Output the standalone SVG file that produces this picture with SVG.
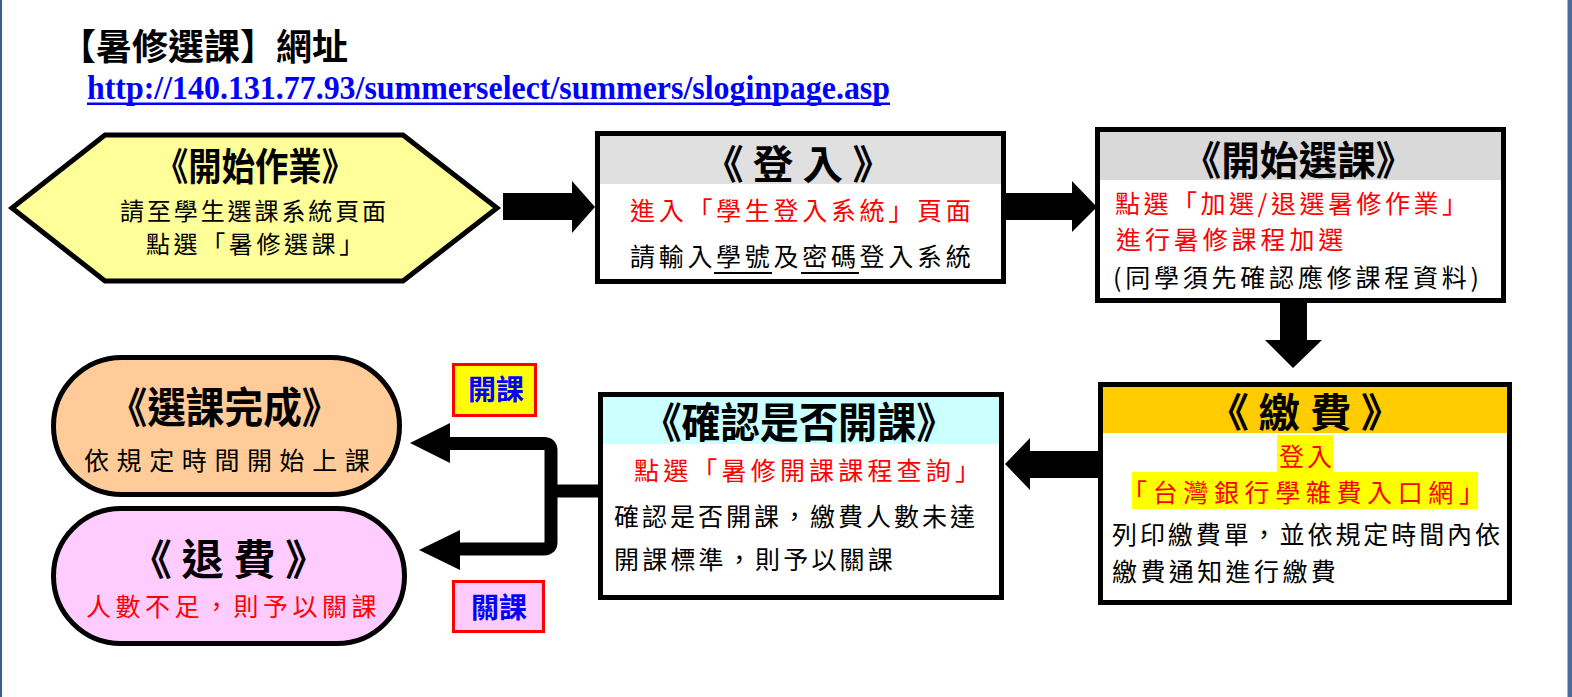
<svg xmlns="http://www.w3.org/2000/svg" width="1572" height="697" viewBox="0 0 1572 697">
<style>
.t{font-family:"Noto Sans CJK TC","Noto Sans CJK SC",sans-serif;font-weight:700;fill:#000;text-anchor:middle}
.b{font-family:"Noto Sans CJK TC","Noto Sans CJK SC",sans-serif;font-weight:400;fill:#000;font-size:24px}
.r{fill:#ff0000}
.frame{fill:none;stroke:#000;stroke-width:5}
.lab{font-family:"Noto Sans CJK TC","Noto Sans CJK SC",sans-serif;font-weight:700;fill:#0000ff;font-size:28px;text-anchor:middle}
.arr{fill:#000;stroke:none}
</style>
<rect x="0" y="0" width="1572" height="697" fill="#ffffff"/>
<rect x="0" y="0" width="2" height="697" fill="#3b5d8c"/>
<rect x="1567.5" y="0" width="4.5" height="697" fill="#4a6b9b"/>

<g id="header">
<text x="60" y="60" style="font-family:'Noto Sans CJK TC','Noto Sans CJK SC',sans-serif;font-weight:700;font-size:36px">【暑修選課】網址</text>
<text x="87" y="99" textLength="803" lengthAdjust="spacingAndGlyphs" style="font-family:'Liberation Serif',serif;font-weight:700;font-size:33px;fill:#0000ff">http://140.131.77.93/summerselect/summers/sloginpage.asp</text>
<rect x="87" y="102.5" width="803" height="2.5" fill="#0000ff"/>
</g>

<g id="connectors">
<polygon class="arr" points="503,193 572,193 572,181 595,207 572,233 572,220 503,220"/>
<polygon class="arr" points="1006,193 1072,193 1072,181 1097,207 1072,232 1072,220 1006,220"/>
<polygon class="arr" points="1280,302 1307,302 1307,340 1322,340 1293,368 1265,340 1280,340"/>
<polygon class="arr" points="1098,451 1030,451 1030,438 1005,464 1030,490 1030,478 1098,478"/>
<path d="M598 491 H551 M449 443.5 H544 Q551 443.5 551 450.5 V542 Q551 549 544 549 H459" fill="none" stroke="#000" stroke-width="13"/>
<polygon class="arr" points="450,423 450,463 410,443"/>
<polygon class="arr" points="460,530 460,570 419,550"/>
</g>

<g id="node-start">
<polygon points="12,208 105,135 403,135 497,208 403,281 105,281" fill="#ffff99" stroke="#000" stroke-width="5" stroke-linejoin="miter"/>
<text class="t" x="255" y="180" font-size="38" textLength="200" lengthAdjust="spacingAndGlyphs">《開始作業》</text>
<text class="b" x="120" y="220" style="font-size:24px;letter-spacing:2.9px">請至學生選課系統頁面</text>
<text class="b" x="146" y="253" style="font-size:24px;letter-spacing:3.6px">點選「暑修選課」</text>
</g>

<g id="node-login">
<rect x="600" y="136" width="401" height="48" fill="#e0e0e0"/>
<rect x="597.5" y="133.5" width="406" height="148" class="frame"/>
<text class="t" x="798" y="179" font-size="40" textLength="190" lengthAdjust="spacingAndGlyphs">《 登 入 》</text>
<text class="b r" x="630" y="220" style="font-size:25px;letter-spacing:3.7px">進入「學生登入系統」頁面</text>
<text class="b" x="630" y="266" style="font-size:25px;letter-spacing:3.7px">請輸入學號及密碼登入系統</text>
<line x1="714" y1="273" x2="772" y2="273" stroke="#000" stroke-width="2"/>
<line x1="801" y1="273" x2="859" y2="273" stroke="#000" stroke-width="2"/>
</g>

<g id="node-select">
<rect x="1100" y="132" width="401" height="48" fill="#d9d9d9"/>
<rect x="1097.5" y="129.5" width="406" height="171" class="frame"/>
<text class="t" x="1298.5" y="175" font-size="40" textLength="232" lengthAdjust="spacingAndGlyphs">《開始選課》</text>
<text class="b r" x="1115" y="213" textLength="352" lengthAdjust="spacing" style="font-size:25px">點選「加選/退選暑修作業」</text>
<text class="b r" x="1116" y="249" style="font-size:25px;letter-spacing:3.9px">進行暑修課程加選</text>
<text class="b" x="1113" y="287" textLength="366" lengthAdjust="spacing" style="font-size:25px">(同學須先確認應修課程資料)</text>
</g>

<g id="node-pay">
<rect x="1103" y="387" width="404" height="46" fill="#ffcc00"/>
<rect x="1100.5" y="384.5" width="409" height="218" class="frame"/>
<text class="t" x="1305" y="427" font-size="40" textLength="196" lengthAdjust="spacingAndGlyphs">《 繳 費 》</text>
<rect x="1277" y="435" width="56" height="37" fill="#ffff00"/>
<rect x="1132" y="472" width="346" height="37" fill="#ffff00"/>
<text class="b r" x="1279" y="466" style="font-size:25px;letter-spacing:3px">登入</text>
<text class="b r" x="1122" y="502" textLength="362" lengthAdjust="spacing" style="font-size:25px">「台灣銀行學雜費入口網」</text>
<text class="b" x="1112" y="544" textLength="388" lengthAdjust="spacing" style="font-size:25px">列印繳費單，並依規定時間內依</text>
<text class="b" x="1112" y="581" style="font-size:25px;letter-spacing:3.4px">繳費通知進行繳費</text>
</g>

<g id="node-check">
<rect x="603" y="397" width="396" height="47" fill="#ccffff"/>
<rect x="600.5" y="394.5" width="401" height="203" class="frame"/>
<text class="t" x="799" y="438" font-size="42" textLength="313" lengthAdjust="spacingAndGlyphs">《確認是否開課》</text>
<text class="b r" x="634" y="480" textLength="346" lengthAdjust="spacing" style="font-size:25px">點選「暑修開課課程查詢」</text>
<text class="b" x="614" y="526" textLength="361" lengthAdjust="spacing" style="font-size:25px">確認是否開課，繳費人數未達</text>
<text class="b" x="614" y="569" style="font-size:25px;letter-spacing:3.2px">開課標準，則予以關課</text>
</g>

<g id="node-done">
<rect x="53.5" y="357.5" width="346" height="137" rx="68.5" ry="68.5" fill="#ffcc99" stroke="#000" stroke-width="5"/>
<text class="t" x="224.5" y="423" font-size="42" textLength="232" lengthAdjust="spacingAndGlyphs">《選課完成》</text>
<text class="b" x="84" y="470" style="font-size:25px;letter-spacing:7.6px">依規定時間開始上課</text>
</g>

<g id="node-refund">
<rect x="53.5" y="508.5" width="351" height="135" rx="67.5" ry="67.5" fill="#ffccff" stroke="#000" stroke-width="5"/>
<text class="t" x="228.5" y="575" font-size="42" textLength="198" lengthAdjust="spacingAndGlyphs">《 退 費 》</text>
<text class="b r" x="86" y="616" style="font-size:25px;letter-spacing:4.5px">人數不足，則予以關課</text>
</g>

<g id="label-open">
<rect x="453.5" y="364.5" width="82" height="51" fill="#ffff00" stroke="#ff0000" stroke-width="3"/>
<text class="lab" x="496" y="400">開課</text>
</g>

<g id="label-close">
<rect x="453.5" y="581.5" width="90" height="50" fill="#ffccff" stroke="#ff0000" stroke-width="3"/>
<text class="lab" x="499" y="618">關課</text>
</g>
</svg>
